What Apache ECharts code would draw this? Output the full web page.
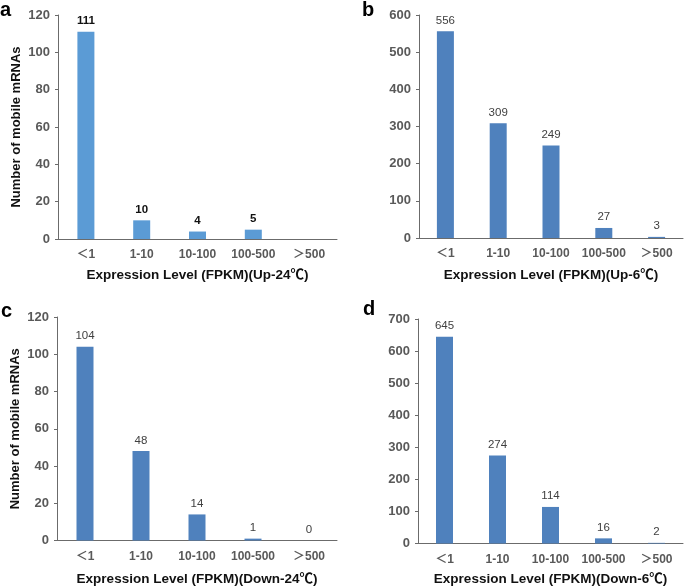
<!DOCTYPE html>
<html>
<head>
<meta charset="utf-8">
<script src="https://cdn.jsdelivr.net/npm/echarts@6/dist/echarts.min.js"></script>
<style>
  html, body { margin: 0; padding: 0; background: #fff; }
  #container { width: 685px; height: 587px; }
</style>
</head>
<body>
<div id="container"></div>
<script>
const categories = ["＜1", "1-10", "10-100", "100-500", "＞500"];

const upLow = [111, 10, 4, 5, null];
const upHigh = [556, 309, 249, 27, 3];
const downLow = [104, 48, 14, 1, 0];
const downHigh = [645, 274, 114, 16, 2];

const yMaxA = 120, yStepA = 20;
const yMaxB = 600, yStepB = 100;
const yMaxC = 120, yStepC = 20;
const yMaxD = 700, yStepD = 100;

const titles = [
  "Expression Level (FPKM)(Up-24℃)",
  "Expression Level (FPKM)(Up-6℃)",
  "Expression Level (FPKM)(Down-24℃)",
  "Expression Level (FPKM)(Down-6℃)",
];

const FONT = "Liberation Sans, Arial, Noto Sans CJK SC, sans-serif";
const axisColor = "#6b6b6b";
const labelColor = "#595959";

const grids = [
  { left: 58, top: 15, width: 279, height: 224 },
  { left: 419, top: 15, width: 264, height: 223 },
  { left: 57, top: 317, width: 280, height: 224 },
  { left: 418, top: 319, width: 265, height: 225 },
];

const yMeta = [
  [yMaxA, yStepA, true],
  [yMaxB, yStepB, false],
  [yMaxC, yStepC, true],
  [yMaxD, yStepD, false],
];
const nameGaps = [30, 31, 32, 29];

const xAxes = grids.map((g, i) => ({
  type: "category",
  gridIndex: i,
  data: categories,
  name: titles[i],
  nameLocation: "middle",
  nameGap: nameGaps[i],
  nameTextStyle: { fontFamily: FONT, fontWeight: "bold", fontSize: 13.5, color: "#111" },
  axisLine: { lineStyle: { color: axisColor, width: 1 } },
  axisTick: { inside: true, length: 4, lineStyle: { color: axisColor } },
  axisLabel: { interval: 0, margin: 10, fontFamily: FONT, fontWeight: "bold", fontSize: 12, color: labelColor },
}));

const yAxes = yMeta.map(([max, step, showName], i) => ({
  type: "value",
  gridIndex: i,
  min: 0,
  max: max,
  interval: step,
  name: showName ? "Number of mobile mRNAs" : "",
  nameLocation: "middle",
  nameGap: 35,
  nameTextStyle: { fontFamily: FONT, fontWeight: "bold", fontSize: 13, color: "#111" },
  axisLine: { show: true, lineStyle: { color: axisColor, width: 1 } },
  axisTick: { show: true, length: 3, lineStyle: { color: axisColor } },
  axisLabel: { margin: 8, fontFamily: FONT, fontWeight: "bold", fontSize: 13, color: labelColor },
  splitLine: { show: false },
}));

function barSeries(idx, data, color, labelStyle) {
  return {
    type: "bar",
    xAxisIndex: idx,
    yAxisIndex: idx,
    data: data,
    barWidth: 17,
    itemStyle: { color: color },
    label: Object.assign({ show: true, position: "top", distance: 5, fontFamily: FONT, fontSize: 11.5 }, labelStyle),
  };
}

const series = [
  barSeries(0, upLow, "#5b9bd5", { fontWeight: "bold", color: "#111" }),
  barSeries(1, upHigh, "#4f81bd", { color: "#404040" }),
  barSeries(2, downLow, "#4f81bd", { color: "#404040" }),
  barSeries(3, downHigh, "#4f81bd", { color: "#404040" }),
];

const panelLetters = [
  { text: "a", x: 0, y: 0 },
  { text: "b", x: 362, y: 0 },
  { text: "c", x: 1, y: 301 },
  { text: "d", x: 363, y: 299 },
];

const option = {
  animation: false,
  backgroundColor: "#fff",
  grid: grids,
  xAxis: xAxes,
  yAxis: yAxes,
  series: series,
  graphic: panelLetters.map((p) => ({
    type: "text",
    left: p.x,
    top: p.y,
    style: { text: p.text, font: "bold 20px " + FONT, fill: "#000" },
  })),
};

const chart = echarts.init(document.getElementById("container"));
chart.setOption(option);
</script>
</body>
</html>
